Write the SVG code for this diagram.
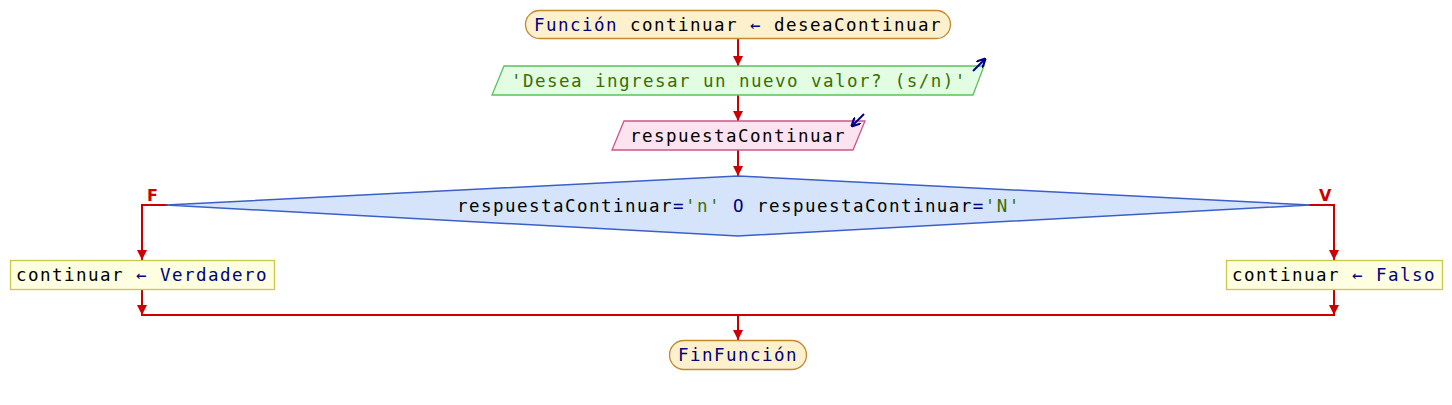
<svg xmlns="http://www.w3.org/2000/svg" width="1452" height="405" viewBox="0 0 1452 405">
<style>
text{font-family:"DejaVu Sans Mono","Liberation Mono",monospace;font-size:17.5px;letter-spacing:1.46px;fill:#000}
.kw{fill:#000080}
.str{fill:#3a6e00}
.lbl{font-family:"DejaVu Sans","Liberation Sans",sans-serif;font-size:16px;font-weight:bold;fill:#cc0000;letter-spacing:0}
.term{fill:#fdf1cd;stroke:#c3892e;stroke-width:1.3}
.out{fill:#e2fde2;stroke:#5cc15c;stroke-width:1.3}
.in{fill:#fde3ef;stroke:#cc5588;stroke-width:1.3}
.dec{fill:#d6e4fb;stroke:#3b5fc8;stroke-width:1.5}
.asg{fill:#fefee0;stroke:#c8c84a;stroke-width:1.3}
.ln{fill:none;stroke:#cc0000;stroke-width:2}
.io{fill:none;stroke:#000080;stroke-width:2}
</style>
<defs>
<marker id="ah" viewBox="0 0 10 10" refX="10" refY="5" markerWidth="10" markerHeight="10" markerUnits="userSpaceOnUse" orient="auto">
<path d="M0,0 L10,5 L0,10 z" fill="#cc0000"/>
</marker>
<marker id="ioh" viewBox="0 0 10 10" refX="9" refY="5" markerWidth="9" markerHeight="9" markerUnits="userSpaceOnUse" orient="auto">
<path d="M0,0 L10,5 L0,10" fill="none" stroke="#000080" stroke-width="2.4"/>
</marker>
</defs>
<g id="connectors">
<line class="ln" x1="738" y1="38" x2="738" y2="66" marker-end="url(#ah)"/>
<line class="ln" x1="738" y1="95" x2="738" y2="121" marker-end="url(#ah)"/>
<line class="ln" x1="738" y1="150" x2="738" y2="176" marker-end="url(#ah)"/>
<polyline class="ln" points="168,205 142,205 142,260" marker-end="url(#ah)"/>
<polyline class="ln" points="1308,205 1334,205 1334,260" marker-end="url(#ah)"/>
<line class="ln" x1="142" y1="290" x2="142" y2="315" marker-end="url(#ah)"/>
<line class="ln" x1="1334" y1="290" x2="1334" y2="315" marker-end="url(#ah)"/>
<line class="ln" x1="141" y1="315" x2="1335" y2="315"/>
<line class="ln" x1="738" y1="315" x2="738" y2="340" marker-end="url(#ah)"/>
<text class="lbl" x="147" y="201">F</text>
<text class="lbl" x="1319" y="201">V</text>
</g>
<g id="start">
<rect class="term" x="525.5" y="10.5" width="425" height="28" rx="14"/>
<text x="534" y="31"><tspan class="kw">Función</tspan> continuar <tspan class="kw">←</tspan> deseaContinuar</text>
</g>
<g id="output">
<polygon class="out" points="504,66 984,66 973,95 492,95"/>
<line class="io" x1="973" y1="71" x2="985" y2="59" marker-end="url(#ioh)"/>
<text x="511" y="87" class="str">'Desea ingresar un nuevo valor? (s/n)'</text>
</g>
<g id="input">
<polygon class="in" points="624,121 865,121 853,150 612,150"/>
<line class="io" x1="864" y1="114" x2="852" y2="126" marker-end="url(#ioh)"/>
<text x="630" y="142">respuestaContinuar</text>
</g>
<g id="decision">
<polygon class="dec" points="166,205 738,176 1310,205 738,236"/>
<text x="457" y="212">respuestaContinuar<tspan class="kw">=</tspan><tspan class="str">'n'</tspan> <tspan class="kw">O</tspan> respuestaContinuar<tspan class="kw">=</tspan><tspan class="str">'N'</tspan></text>
</g>
<g id="assignTrue">
<rect class="asg" x="10.5" y="260.5" width="264" height="29"/>
<text x="16" y="281">continuar <tspan class="kw">← Verdadero</tspan></text>
</g>
<g id="assignFalse">
<rect class="asg" x="1226.5" y="260.5" width="216" height="29"/>
<text x="1232" y="281">continuar <tspan class="kw">← Falso</tspan></text>
</g>
<g id="end">
<rect class="term" x="669.5" y="340.5" width="137" height="29" rx="14.5"/>
<text x="678" y="361" class="kw">FinFunción</text>
</g>
</svg>
